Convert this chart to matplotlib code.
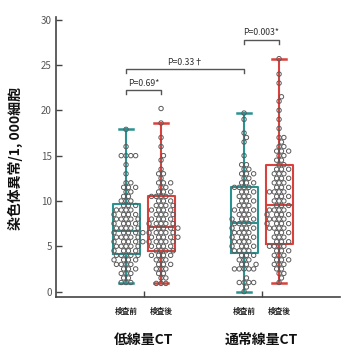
import numpy as np
import matplotlib
matplotlib.use("Agg")
import matplotlib.pyplot as plt

plt.rcParams['font.family'] = ['Noto Sans CJK JP', 'DejaVu Sans']

# ---------------- data ----------------
group_labels = ["低線量CT", "通常線量CT"]
time_labels = ["検査前", "検査後"]
ylabel = "染色体異常/1, 000細胞"

# observed values and how many subjects sit at each value
lb_vals = [1.0, 1.5, 2.0, 2.5, 3.0, 3.5, 4.0, 4.5, 5.0, 5.5, 6.0, 6.5, 7.0, 7.5, 8.0, 8.5, 9.0, 9.5,
           10.0, 10.5, 11.0, 11.5, 12.0, 13.0, 14.0, 15.0, 16.0, 17.9]
lb_cnts = [3, 2, 3, 3, 4, 4, 5, 4, 5, 5, 5, 5, 5, 4, 5, 4, 4, 3, 3, 2, 2, 3, 2, 1, 1, 4, 1, 1]

la_vals = [0.9, 1.5, 2.0, 2.5, 3.0, 3.5, 4.0, 4.5, 5.0, 5.5, 6.0, 6.5, 7.0, 7.5, 8.0, 8.5, 9.0, 9.5,
           10.0, 10.5, 11.0, 11.5, 12.0, 12.5, 13.0, 13.5, 14.5, 15.0, 16.0, 17.0, 18.6, 20.2]
la_cnts = [3, 2, 2, 3, 3, 3, 4, 4, 4, 5, 5, 5, 5, 5, 4, 4, 4, 4, 3, 4, 3, 2, 3, 1, 2, 1, 1, 1, 1, 1, 1, 1]

nb_vals = [0.0, 0.5, 1.0, 1.5, 2.5, 3.0, 3.5, 4.0, 4.5, 5.0, 5.5, 6.0, 6.5, 7.0, 7.5, 8.0, 8.5, 9.0,
           9.5, 10.0, 10.5, 11.0, 11.5, 12.0, 12.5, 13.0, 13.5, 14.0, 15.0, 16.5, 17.0, 17.5, 19.0, 19.7]
nb_cnts = [1, 1, 4, 1, 5, 3, 3, 3, 4, 4, 4, 4, 4, 4, 4, 4, 3, 4, 3, 3, 3, 3, 4, 3, 2, 3, 2, 2, 1, 1,
           1, 1, 1, 1]

na_vals = [1.0, 1.5, 2.0, 2.5, 3.0, 3.5, 4.0, 4.5, 5.0, 5.5, 6.0, 6.5, 7.0, 7.5, 8.0, 8.5, 9.0, 9.5,
           10.0, 10.5, 11.0, 11.5, 12.0, 12.5, 13.0, 13.5, 14.0, 14.5, 15.0, 15.5, 16.0, 16.5, 17.0,
           18.0, 19.0, 20.0, 21.0, 21.5, 23.0, 24.0, 25.7]
na_cnts = [1, 1, 2, 2, 3, 3, 3, 3, 4, 3, 3, 3, 4, 4, 4, 4, 4, 3, 3, 3, 4, 3, 3, 3, 3, 3, 2, 2, 2, 3,
           2, 1, 2, 1, 1, 1, 1, 1, 1, 1, 1]

# box statistics: (whislo, q1, med, q3, whishi)
box_whislo = [1.0, 0.9, 0.0, 1.0]
box_q1 = [4.1, 4.5, 4.3, 5.2]
box_med = [6.7, 7.1, 7.6, 9.6]
box_q3 = [9.7, 10.5, 11.5, 14.0]
box_whishi = [17.9, 18.6, 19.7, 25.7]

p_labels = ["P=0.69*", "P=0.33†", "P=0.003*"]
p_heights = [22.2, 24.6, 27.8]

# ---------------- layout ----------------
series = [np.repeat(lb_vals, lb_cnts), np.repeat(la_vals, la_cnts),
          np.repeat(nb_vals, nb_cnts), np.repeat(na_vals, na_cnts)]
positions = [1.0, 2.0, 4.37, 5.37]
colors = ["#2b9191", "#d8413c", "#2b9191", "#d8413c"]

W, H = 342, 347
fig = plt.figure(figsize=(W / 100, H / 100), dpi=100)
ax = fig.add_axes([56 / W, 1 - 297 / H, (340 - 56) / W, (297 - 17) / H])
xlim = (-1.0, 7.11)
ylim = (-0.6, 30.3)
ax.set_xlim(*xlim)
ax.set_ylim(*ylim)

for i in range(4):
    c = colors[i]
    st = dict(whislo=box_whislo[i], q1=box_q1[i], med=box_med[i],
              q3=box_q3[i], whishi=box_whishi[i], fliers=[])
    ax.bxp([st], positions=[positions[i]], widths=0.77, showfliers=False,
           boxprops=dict(color=c, lw=1.5),
           medianprops=dict(color=c, lw=1.5),
           whiskerprops=dict(color=c, lw=1.5),
           capprops=dict(color=c, lw=1.8), capwidths=0.42,
           manage_ticks=False, zorder=2)

# beeswarm positions computed in pixel space
px_per_x = (340 - 56) / (xlim[1] - xlim[0])
px_per_y = (297 - 17) / (ylim[1] - ylim[0])
d = 4.8
step = 2.4
for i, vals in enumerate(series):
    vals = sorted(vals)
    placed = []
    xs = []
    for v in vals:
        py = v * px_per_y
        k = 0
        found = None
        while found is None:
            cands = [0.0] if k == 0 else [k * step, -k * step]
            for off in cands:
                if all((off - ox) ** 2 + (py - oy) ** 2 >= d * d for ox, oy in placed):
                    found = off
                    break
            k += 1
        placed.append((found, py))
        xs.append(positions[i] + found / px_per_x)
    ax.scatter(xs, vals, s=10, facecolors='none', edgecolors='#5a5a5a', linewidths=0.7, zorder=3)

# significance brackets
pairs = [(positions[0], positions[1]), (positions[0], positions[2]), (positions[2], positions[3])]
leg = 0.45
for (x1, x2), h, lab in zip(pairs, p_heights, p_labels):
    ax.plot([x1, x1, x2, x2], [h - leg, h, h, h - leg], color='#555555', lw=1.0, clip_on=False)
    ax.text((x1 + x2) / 2, h + 0.25, lab, ha='center', va='bottom', fontsize=6.3,
            color='#333333', clip_on=False)

# axes styling
for s in ['top', 'right']:
    ax.spines[s].set_visible(False)
for s in ['left', 'bottom']:
    ax.spines[s].set_color('#444444')
    ax.spines[s].set_linewidth(1.2)
ax.set_yticks([0, 5, 10, 15, 20, 25, 30])
ax.tick_params(axis='y', direction='in', length=4, width=1.0, colors='#444444',
               labelsize=7, labelcolor='#555555', pad=3)
ax.set_xticks([(positions[0] + positions[1]) / 2, (positions[2] + positions[3]) / 2])
ax.set_xticklabels([])
ax.tick_params(axis='x', direction='in', length=4, width=1.0, colors='#444444')

for i in range(4):
    ax.text(positions[i], -2.2, time_labels[i % 2], ha='center', va='center',
            fontsize=5.5, fontweight='bold', color='#222222', clip_on=False)
for g in range(2):
    ax.text((positions[2 * g] + positions[2 * g + 1]) / 2, -5.3, group_labels[g],
            ha='center', va='center', fontsize=10, fontweight='bold', color='#111111',
            clip_on=False)

fig.text(15 / W, 1 - 158 / H, ylabel, rotation=90, ha='center', va='center',
         fontsize=10, fontweight='bold', color='#111111')

fig.savefig("out.png", dpi=100)
